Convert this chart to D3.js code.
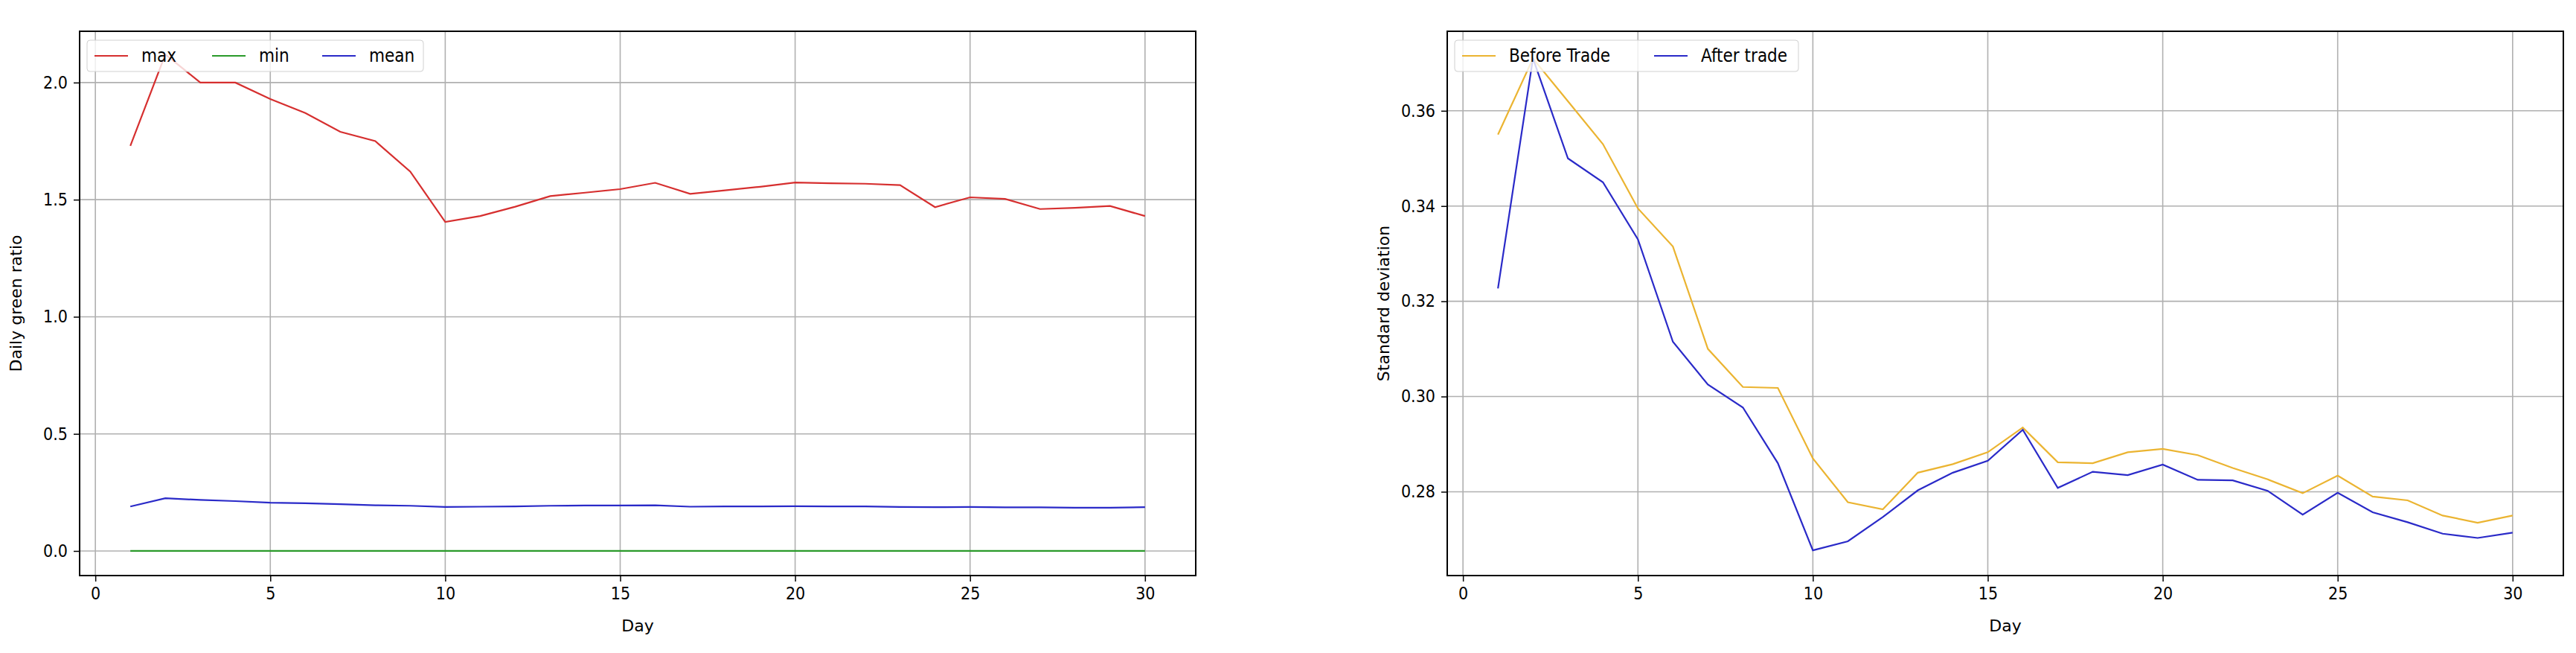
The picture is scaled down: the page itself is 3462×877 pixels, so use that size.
<!DOCTYPE html>
<html><head><meta charset="utf-8">
<script src="https://cdn.jsdelivr.net/npm/d3@7"></script>
<style>
body{margin:0;background:#fff}
.tick text{font-family:"DejaVu Sans Condensed","DejaVu Sans";font-size:23px;fill:#000}
.lbl{font-family:"DejaVu Sans";font-size:22px}
.leg{font-family:"DejaVu Sans Condensed","DejaVu Sans";font-size:24px}
</style></head><body>
<script>
var days = d3.range(1, 31);
var maxRatio = [1.73,2.12,2.0,2.0,1.93,1.87,1.79,1.75,1.62,1.405,1.43,1.47,1.515,1.53,1.545,1.572,1.525,1.54,1.555,1.573,1.57,1.568,1.562,1.468,1.51,1.503,1.46,1.465,1.473,1.43];
var minRatio = [0,0,0,0,0,0,0,0,0,0,0,0,0,0,0,0,0,0,0,0,0,0,0,0,0,0,0,0,0,0];
var meanRatio = [.19,.225,.218,.213,.206,.204,.2,.195,.193,.188,.189,.19,.193,.194,.194,.195,.189,.19,.19,.191,.19,.19,.188,.187,.188,.186,.186,.185,.185,.187];
var beforeTrade = [0.355,0.371,0.362,0.353,0.3395,0.3315,0.310,0.302,0.3018,0.287,0.2778,0.2763,0.284,0.2858,0.2883,0.2935,0.2862,0.286,0.2883,0.289,0.2877,0.285,0.2826,0.2797,0.2834,0.279,0.2782,0.275,0.2735,0.275];
var afterTrade = [0.3227,0.371,0.350,0.345,0.333,0.3115,0.3025,0.2977,0.286,0.2677,0.2696,0.2747,0.2803,0.284,0.2865,0.293,0.2808,0.2842,0.2835,0.2857,0.2825,0.2824,0.2802,0.2752,0.2798,0.2757,0.2736,0.2712,0.2703,0.2714];

var svg = d3.select("body").append("svg").attr("width", 3462).attr("height", 877);

function panel(left, ylab, ydom, yticks, yfmt, series, legW) {
    var top = 42, w = 1500, h = 731;
    var g = svg.append("g").attr("transform", "translate(" + left + "," + top + ")");
    var x = d3.scaleLinear().domain([-0.45, 31.45]).range([0, w]);
    var y = d3.scaleLinear().domain(ydom).range([h, 0]);

    var xa = g.append("g").attr("transform", "translate(0," + h + ")")
        .call(d3.axisBottom(x).tickValues([0,5,10,15,20,25,30]).tickSize(8).tickPadding(8));
    var ya = g.append("g").call(d3.axisLeft(y).tickValues(yticks).tickFormat(yfmt).tickSize(8).tickPadding(8));
    [xa, ya].forEach(a => { a.select(".domain").remove(); a.selectAll("line").attr("stroke-width", 1.5); });

    g.append("g").selectAll("line").data([0,5,10,15,20,25,30]).enter().append("line")
        .attr("x1", d => x(d)).attr("x2", d => x(d)).attr("y1", 0).attr("y2", h)
        .attr("stroke", "#b0b0b0").attr("stroke-width", 1.6);
    g.append("g").selectAll("line").data(yticks).enter().append("line")
        .attr("y1", d => y(d)).attr("y2", d => y(d)).attr("x1", 0).attr("x2", w)
        .attr("stroke", "#b0b0b0").attr("stroke-width", 1.6);

    var line = d3.line().x((d, i) => x(days[i])).y(d => y(d));
    series.forEach(s => {
        g.append("path").datum(s.values).attr("d", line)
            .attr("fill", "none").attr("stroke", s.color).attr("stroke-width", 2.2);
    });

    g.append("rect").attr("width", w).attr("height", h).attr("fill", "none").attr("stroke", "#000").attr("stroke-width", 2);

    var lg = g.append("g").attr("transform", "translate(10,12)");
    lg.append("rect").attr("width", legW).attr("height", 42).attr("rx", 4)
        .attr("fill", "#fff").attr("fill-opacity", 0.8).attr("stroke", "#d0d0d0");
    var xo = 10;
    series.forEach(s => {
        lg.append("line").attr("x1", xo).attr("x2", xo + 45).attr("y1", 21).attr("y2", 21)
            .attr("stroke", s.color).attr("stroke-width", 2.2);
        lg.append("text").attr("class", "leg").attr("x", xo + 63).attr("y", 29).text(s.name);
        xo += s.step;
    });

    g.append("text").attr("class", "lbl").attr("x", w / 2).attr("y", h + 75)
        .attr("text-anchor", "middle").text("Day");
    g.append("text").attr("class", "lbl").attr("transform", "translate(-78," + (h / 2) + ") rotate(-90)")
        .attr("text-anchor", "middle").text(ylab);
}

panel(107, "Daily green ratio", [-0.105, 2.219], [0, 0.5, 1, 1.5, 2], d3.format(".1f"), [
    { name: "max", values: maxRatio, color: "#d62f2f", step: 158 },
    { name: "min", values: minRatio, color: "#2a9a2a", step: 148 },
    { name: "mean", values: meanRatio, color: "#2a2ac8", step: 150 }
], 452);

panel(1945, "Standard deviation", [0.2624, 0.3767], [0.28, 0.30, 0.32, 0.34, 0.36], d3.format(".2f"), [
    { name: "Before Trade", values: beforeTrade, color: "#ebb431", step: 258 },
    { name: "After trade", values: afterTrade, color: "#2a2ac8", step: 200 }
], 462);
</script>
</body></html>
